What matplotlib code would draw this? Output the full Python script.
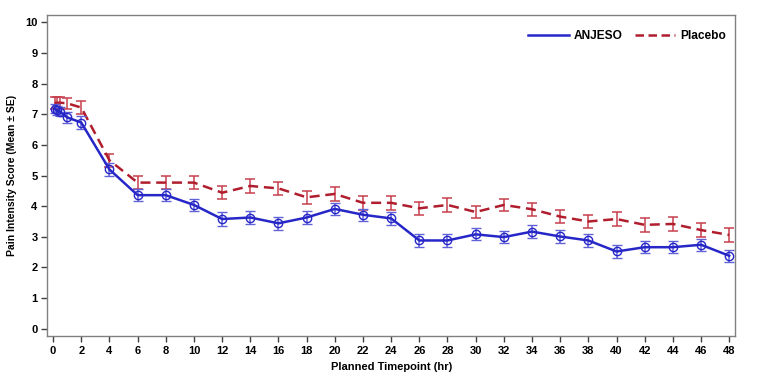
import matplotlib
matplotlib.use("Agg")
import matplotlib.pyplot as plt
from matplotlib.lines import Line2D

plt.rcParams['font.family'] = ['Liberation Sans', 'DejaVu Sans']

time_anjeso = [0.1, 0.25, 0.5, 1, 2, 4, 6, 8, 10, 12, 14, 16, 18, 20, 22, 24, 26, 28, 30, 32, 34, 36, 38, 40, 42, 44, 46, 48]
mean_anjeso = [7.19, 7.13, 7.08, 6.9, 6.73, 5.2, 4.36, 4.36, 4.04, 3.58, 3.63, 3.44, 3.63, 3.91, 3.72, 3.6,
               2.88, 2.88, 3.08, 2.99, 3.17, 3.01, 2.88, 2.52, 2.66, 2.66, 2.74, 2.38]
se_anjeso = [0.15, 0.15, 0.15, 0.17, 0.2, 0.2, 0.2, 0.2, 0.2, 0.22, 0.2, 0.22, 0.2, 0.2, 0.2, 0.2,
             0.2, 0.2, 0.2, 0.2, 0.2, 0.2, 0.2, 0.2, 0.2, 0.2, 0.2, 0.2]

time_placebo = [0.1, 0.25, 0.5, 1, 2, 4, 6, 8, 10, 12, 14, 16, 18, 20, 22, 24, 26, 28, 30, 32, 34, 36, 38, 40, 42, 44, 46, 48]
mean_placebo = [7.37, 7.38, 7.38, 7.36, 7.22, 5.5, 4.77, 4.77, 4.77, 4.44, 4.66, 4.58, 4.29, 4.4, 4.11, 4.11,
                3.93, 4.04, 3.81, 4.04, 3.9, 3.66, 3.5, 3.58, 3.39, 3.42, 3.22, 3.06]
se_placebo = [0.18, 0.18, 0.18, 0.18, 0.22, 0.22, 0.22, 0.22, 0.22, 0.22, 0.23, 0.22, 0.22, 0.22, 0.22, 0.22,
              0.22, 0.22, 0.2, 0.2, 0.22, 0.22, 0.22, 0.22, 0.22, 0.22, 0.22, 0.22]

xticks = list(range(0, 49, 2))
yticks = list(range(0, 11))

fig = plt.figure(figsize=(7.61, 3.80), dpi=100)
ax = fig.add_axes([0.062, 0.115, 0.904, 0.846])

blue = '#2727C8'
blue_err = '#6262D8'
red = '#B01E2E'
red_err = '#C8404E'
dash = (0, (4.0, 2.3))

ax.errorbar(time_placebo, mean_placebo, yerr=se_placebo, color=red, ls=dash, lw=1.8,
            ecolor=red_err, elinewidth=1.1, capsize=3.5, capthick=1.1, label='Placebo', zorder=3)
ax.errorbar(time_anjeso, mean_anjeso, yerr=se_anjeso, color=blue, ls='-', lw=1.8,
            marker='o', ms=6, mfc='none', mec=blue, mew=1.0,
            ecolor=blue_err, elinewidth=1.1, capsize=3.5, capthick=1.1, label='ANJESO', zorder=4)

ax.set_xlim(-0.42, 48.42)
ax.set_ylim(-0.25, 10.25)
ax.set_xticks(xticks)
ax.set_yticks(yticks)
ax.tick_params(axis='both', direction='out', length=4, width=1, color='#404040',
               labelsize=8, pad=3)
for lab in ax.get_xticklabels() + ax.get_yticklabels():
    lab.set_fontweight('bold')
for s in ax.spines.values():
    s.set_color('#808080')
    s.set_linewidth(1.0)

ax.set_xlabel('Planned Timepoint (hr)', fontsize=8, fontweight='bold', labelpad=4)
ax.set_ylabel('Pain Intensity Score (Mean ± SE)', fontsize=7.5, fontweight='bold', labelpad=6)

handles = [Line2D([], [], color=blue, lw=1.8, ls='-'),
           Line2D([], [], color=red, lw=1.8, ls=(0, (3.4, 1.8)))]
ax.legend(handles, ['ANJESO', 'Placebo'], loc='upper right', ncol=2, frameon=False,
          prop={'weight': 'bold', 'size': 8.6}, handlelength=3.4, columnspacing=1.0,
          handletextpad=0.45, bbox_to_anchor=(1.003, 0.985))

fig.savefig('out.png', dpi=100)
